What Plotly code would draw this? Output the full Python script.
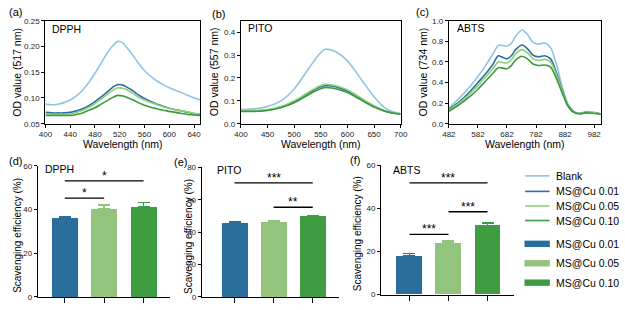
import plotly.graph_objects as go

W, H = 625, 310
FONT = "Liberation Sans, Arial, sans-serif"

# ---------------- data ----------------
series_names = ["Blank", "MS@Cu 0.01", "MS@Cu 0.05", "MS@Cu 0.10"]
line_colors = ["#92c4e2", "#2b6ea3", "#8fcf78", "#3a9a3c"]
bar_names = ["MS@Cu 0.01", "MS@Cu 0.05", "MS@Cu 0.10"]
bar_colors = ["#2a6e9b", "#93c47d", "#3e9c42"]

# (a) DPPH spectra
wl_a = [400, 410, 420, 430, 440, 450, 460, 470, 480, 490, 500, 510, 517, 525, 530,
        540, 550, 560, 570, 580, 590, 600, 610, 620, 630, 640, 650]
dpph_blank = [0.088, 0.087, 0.088, 0.091, 0.096, 0.104, 0.115, 0.130, 0.148, 0.168, 0.188,
              0.203, 0.210, 0.207, 0.200, 0.185, 0.168, 0.153, 0.142, 0.133, 0.126, 0.120,
              0.115, 0.110, 0.105, 0.100, 0.096]
dpph_001 = [0.072, 0.071, 0.071, 0.071, 0.072, 0.075, 0.079, 0.085, 0.093, 0.102, 0.112,
            0.122, 0.126, 0.125, 0.122, 0.115, 0.106, 0.099, 0.093, 0.088, 0.084, 0.080,
            0.077, 0.075, 0.072, 0.070, 0.068]
dpph_005 = [0.069, 0.068, 0.068, 0.068, 0.069, 0.072, 0.076, 0.082, 0.089, 0.098, 0.107,
            0.116, 0.120, 0.119, 0.117, 0.110, 0.102, 0.096, 0.091, 0.087, 0.083, 0.080,
            0.077, 0.075, 0.073, 0.070, 0.069]
dpph_010 = [0.066, 0.066, 0.066, 0.066, 0.066, 0.068, 0.071, 0.076, 0.081, 0.088, 0.095,
            0.102, 0.105, 0.104, 0.102, 0.097, 0.091, 0.086, 0.082, 0.079, 0.076, 0.074,
            0.072, 0.070, 0.068, 0.067, 0.066]

# (b) PITO spectra
wl_b = [400, 425, 450, 475, 500, 515, 530, 545, 557, 570, 585, 600, 615, 630, 650, 670, 685, 700]
pito_blank = [0.062, 0.065, 0.075, 0.100, 0.152, 0.200, 0.250, 0.298, 0.325, 0.322, 0.305,
              0.275, 0.230, 0.180, 0.118, 0.070, 0.052, 0.045]
pito_001 = [0.055, 0.055, 0.060, 0.073, 0.097, 0.117, 0.138, 0.157, 0.166, 0.165, 0.157,
            0.143, 0.124, 0.103, 0.076, 0.056, 0.047, 0.043]
pito_005 = [0.058, 0.058, 0.062, 0.075, 0.100, 0.120, 0.142, 0.162, 0.172, 0.170, 0.162,
            0.148, 0.128, 0.106, 0.078, 0.057, 0.048, 0.043]
pito_010 = [0.054, 0.054, 0.058, 0.070, 0.092, 0.111, 0.131, 0.149, 0.158, 0.156, 0.149,
            0.136, 0.118, 0.098, 0.073, 0.055, 0.047, 0.043]

# (c) ABTS spectra
wl_c = [482, 507, 532, 557, 582, 607, 632, 652, 667, 682, 697, 712, 734, 752, 772, 792,
        812, 832, 852, 872, 892, 912, 932, 952, 982, 1005]
abts_blank = [0.155, 0.22, 0.29, 0.37, 0.46, 0.56, 0.67, 0.76, 0.76, 0.755, 0.78, 0.85, 0.91,
              0.87, 0.79, 0.775, 0.785, 0.74, 0.58, 0.36, 0.19, 0.12, 0.10, 0.115, 0.11, 0.095]
abts_001 = [0.14, 0.19, 0.25, 0.32, 0.40, 0.48, 0.57, 0.66, 0.645, 0.63, 0.66, 0.72, 0.765,
            0.73, 0.665, 0.65, 0.66, 0.63, 0.50, 0.33, 0.18, 0.115, 0.10, 0.11, 0.105, 0.095]
abts_005 = [0.13, 0.18, 0.235, 0.30, 0.37, 0.45, 0.53, 0.60, 0.595, 0.59, 0.62, 0.68, 0.72,
            0.69, 0.63, 0.615, 0.625, 0.60, 0.48, 0.32, 0.175, 0.11, 0.10, 0.11, 0.105, 0.095]
abts_010 = [0.12, 0.165, 0.215, 0.27, 0.335, 0.41, 0.485, 0.545, 0.54, 0.535, 0.565, 0.62,
            0.655, 0.63, 0.58, 0.565, 0.57, 0.55, 0.44, 0.30, 0.17, 0.11, 0.095, 0.105, 0.10, 0.095]

# (d)-(f) scavenging efficiency (%), mean and upper error
dpph_eff = [36.0, 40.2, 41.1]
dpph_err = [0.9, 1.8, 2.2]
pito_eff = [45.4, 45.8, 49.8]
pito_err = [1.0, 1.2, 0.6]
abts_eff = [18.0, 24.0, 32.0]
abts_err = [1.0, 0.8, 1.3]

# significance brackets: (from bar, to bar, height, label)
dpph_sig = [(0, 2, 53.1, "*"), (0, 1, 45.2, "*")]
pito_sig = [(0, 2, 70.4, "***"), (1, 2, 55.4, "**")]
abts_sig = [(0, 2, 51.8, "***"), (1, 2, 38.4, "***"), (0, 1, 27.9, "***")]

# ---------------- figure ----------------
fig = go.Figure()

def px_x(p):
    return p / W

def px_y(p):
    return 1 - p / H

spectra = [
    ("x", "y", wl_a, [dpph_blank, dpph_001, dpph_005, dpph_010]),
    ("x2", "y2", wl_b, [pito_blank, pito_001, pito_005, pito_010]),
    ("x3", "y3", wl_c, [abts_blank, abts_001, abts_005, abts_010]),
]
for xa, ya, wl, ys in spectra:
    for name, col, yv in zip(series_names, line_colors, ys):
        fig.add_trace(go.Scatter(x=wl, y=yv, mode="lines", name=name, xaxis=xa, yaxis=ya,
                                 line=dict(color=col, width=1.6, shape="spline", smoothing=0.8),
                                 showlegend=False))

bars = [
    ("x4", "y4", dpph_eff, dpph_err, dpph_sig),
    ("x5", "y5", pito_eff, pito_err, pito_sig),
    ("x6", "y6", abts_eff, abts_err, abts_sig),
]
cats = [0, 1, 2]
for xa, ya, vals, errs, sigs in bars:
    for c, name, col, v, e in zip(cats, bar_names, bar_colors, vals, errs):
        fig.add_trace(go.Bar(x=[c], y=[v], name=name, xaxis=xa, yaxis=ya, width=0.66,
                             marker=dict(color=col, line=dict(width=0)),
                             error_y=dict(type="data", array=[e], arrayminus=[0], symmetric=False,
                                          color=col, thickness=1.6, width=6),
                             showlegend=False))
    for a, b, h, lab in sigs:
        fig.add_shape(type="line", xref=xa, yref=ya, x0=cats[a], x1=cats[b], y0=h, y1=h,
                      line=dict(color="black", width=1.3))
        fig.add_annotation(xref=xa, yref=ya, x=(cats[a] + cats[b]) / 2, y=h, text=lab,
                           showarrow=False, yanchor="bottom", yshift=-4,
                           font=dict(family=FONT, size=12, color="black"))

tickfont = dict(family=FONT, size=8, color="#222")
common_line = dict(showline=True, linecolor="black", linewidth=1.3, ticks="outside",
                   ticklen=3, tickwidth=1.2, tickcolor="black", showgrid=False,
                   zeroline=False, tickfont=tickfont)

top_y = [px_y(123.3), px_y(17.3)]
fig.update_layout(
    width=W, height=H, margin=dict(l=0, r=0, t=0, b=0),
    paper_bgcolor="white", plot_bgcolor="white", bargap=0, barmode="overlay",
    font=dict(family=FONT, color="black"),
    xaxis=dict(domain=[px_x(39.3), px_x(197.7)], range=[400, 650], anchor="y",
               tickvals=[400, 440, 480, 520, 560, 600, 640], mirror=True, **common_line),
    yaxis=dict(domain=top_y, range=[0.05, 0.25], anchor="x",
               tickvals=[0.05, 0.10, 0.15, 0.20, 0.25], tickformat=".2f", mirror=True, **common_line),
    xaxis2=dict(domain=[px_x(239.3), px_x(402.7)], range=[400, 700], anchor="y2",
                tickvals=[400, 450, 500, 550, 600, 650, 700], mirror=True, **common_line),
    yaxis2=dict(domain=top_y, range=[0, 0.45], anchor="x2",
                tickvals=[0, 0.1, 0.2, 0.3, 0.4], tickformat=".1f", mirror=True, **common_line),
    xaxis3=dict(domain=[px_x(452), px_x(607.7)], range=[482, 1006], anchor="y3",
                tickvals=[482, 582, 682, 782, 882, 982], mirror=True, **common_line),
    yaxis3=dict(domain=top_y, range=[0, 1.0], anchor="x3",
                tickvals=[0, 0.2, 0.4, 0.6, 0.8, 1.0], tickformat=".1f", mirror=True, **common_line),
    xaxis4=dict(domain=[px_x(31.7), px_x(166.7)], range=[-0.68, 2.67], anchor="y4",
                tickvals=cats, showticklabels=False, **{**common_line, "ticklen": 5}),
    yaxis4=dict(domain=[px_y(301.7), px_y(166.7)], range=[0, 60], anchor="x4",
                tickvals=[0, 20, 40, 60], **common_line),
    xaxis5=dict(domain=[px_x(199.3), px_x(340)], range=[-0.835, 2.68], anchor="y5",
                tickvals=cats, showticklabels=False, **{**common_line, "ticklen": 5}),
    yaxis5=dict(domain=[px_y(301.7), px_y(168.3)], range=[0, 80], anchor="x5",
                tickvals=[0, 20, 40, 60, 80], **common_line),
    xaxis6=dict(domain=[px_x(382.7), px_x(518.3)], range=[-0.725, 2.67], anchor="y6",
                tickvals=cats, showticklabels=False, **{**common_line, "ticklen": 5}),
    yaxis6=dict(domain=[px_y(299.3), px_y(166)], range=[0, 60], anchor="x6",
                tickvals=[0, 20, 40, 60], **common_line),
)

def ann(text, x, y, size, xanchor="center", yanchor="middle", angle=0):
    fig.add_annotation(xref="paper", yref="paper", x=px_x(x), y=px_y(y), text=text,
                       showarrow=False, xanchor=xanchor, yanchor=yanchor, textangle=angle,
                       font=dict(family=FONT, size=size, color="black"))

# panel letters
for lab, x, y in [("(a)", 8.5, 8), ("(b)", 216.5, 10), ("(c)", 425.5, 8),
                  ("(d)", 8.5, 162), ("(e)", 177.5, 163), ("(f)", 356, 161)]:
    ann(lab, x, y, 11)

# inner labels
for lab, x, y in [("DPPH", 44, 25.5), ("PITO", 244, 25), ("ABTS", 458, 25),
                  ("DPPH", 36.7, 170), ("PITO", 212.7, 171), ("ABTS", 393, 171)]:
    ann(lab, x, y, 10.5, xanchor="left")

# axis titles
ann("Wavelength (nm)", 118.5, 144, 10.5)
ann("Wavelength (nm)", 321, 144, 10.5)
ann("Wavelength (nm)", 530, 144, 10.5)
ann("OD value (517 nm)", 10, 70, 10.5, angle=-90)
ann("OD value (557 nm)", 212, 70, 10.5, angle=-90)
ann("OD value (734 nm)", 426, 70, 10.5, angle=-90)
ann("Scavenging efficiency (%)", 10, 238, 10, angle=-90)
ann("Scavenging efficiency (%)", 185, 239, 10, angle=-90)
ann("Scavenging efficiency (%)", 358, 236, 10, angle=-90)

# legend (drawn manually)
for name, col, y in zip(series_names, line_colors, [177, 193, 208, 223]):
    fig.add_shape(type="line", xref="paper", yref="paper", x0=px_x(530), x1=px_x(555),
                  y0=px_y(y), y1=px_y(y), line=dict(color=col, width=1.6))
    ann(name, 560, y, 10.5, xanchor="left")
for name, col, y in zip(bar_names, bar_colors, [247, 267, 287]):
    fig.add_shape(type="rect", xref="paper", yref="paper", x0=px_x(529.3), x1=px_x(555.3),
                  y0=px_y(y + 3.3), y1=px_y(y - 3.3), line=dict(width=0), fillcolor=col)
    ann(name, 560, y, 10.5, xanchor="left")

fig.write_html("out.html")
